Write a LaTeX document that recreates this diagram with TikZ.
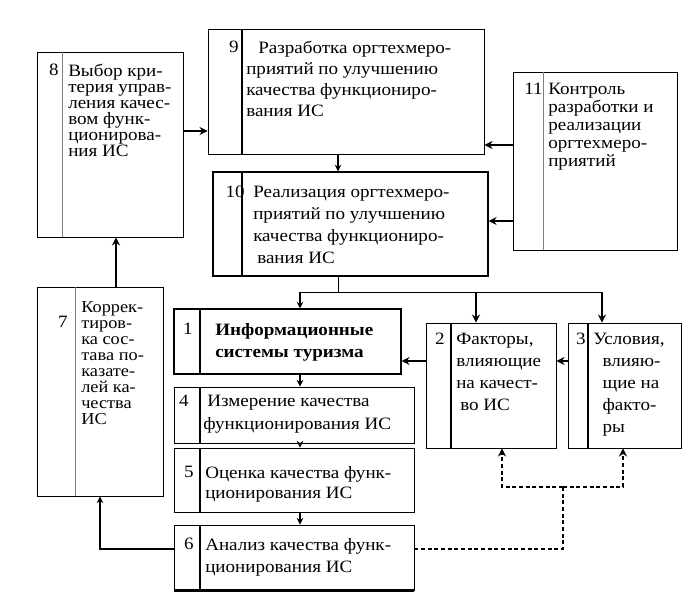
\documentclass[tikz,border=0pt]{standalone}
\usepackage{fontspec}
\setmainfont[FakeStretch=1.1]{Liberation Serif}
\usetikzlibrary{arrows.meta,fit,calc}
\tikzset{
  blk/.style={draw,line width=.7pt,inner sep=0pt},
  txt/.style={anchor=north west,align=left,inner sep=0pt},
  num/.style={anchor=north east,inner sep=0pt,font=\fontsize{13}{15}\selectfont},
  arr/.style={line width=1.5pt,-{Stealth[length=6pt,width=6pt]}},
  thinarr/.style={line width=.8pt,-{Stealth[length=5pt,width=5pt]}},
  dsh/.style={line width=1.2pt,dash pattern=on 3pt off 2pt,-{Stealth[length=6pt,width=6pt]}}
}
\newcommand{\fs}[1]{\fontsize{13}{#1}\selectfont}
\begin{document}
\begin{tikzpicture}[x=.75pt,y=-.75pt]
      \useasboundingbox(0,0)rectangle(700,602);
      % blocks
      \node[blk,fit={(37,52)(183,237)}](b8){};
      \node[blk,fit={(208,29)(484,154)}](b9){};
      \node[blk,line width=.85pt,fit={(213,172)(488,276)}](b10){};
      \node[blk,fit={(513,72)(677,250)}](b11){};
      \node[blk,fit={(37,287)(163,496)}](b7){};
      \node[blk,line width=.85pt,fit={(174,309)(401,374)}](b1){};
      \node[blk,fit={(174,387)(414,443)}](b4){};
      \node[blk,fit={(174,448)(414,512)}](b5){};
      \node[blk,fit={(174,525)(414,590)}](b6){};
      \node[blk,fit={(426,323)(556,448)}](b2){};
      \node[blk,fit={(568,323)(681,448)}](b3){};
      \draw[line width=1.6pt](b6.south west)--(b6.south east);
      % number columns
      \draw[line width=.5pt,gray](62,52)--(62,237) (75,287)--(75,496) (543,72)--(543,250);
      \draw[line width=.8pt](242,29)--(242,154) (242,172)--(242,276)
        (200,309)--(200,374) (200,387)--(200,443) (200,448)--(200,512) (200,525)--(200,590)
        (451,323)--(451,448) (588,323)--(588,448);
      % numbers
      \node[num](n8)at(59,64){8};
      \node[num](n9)at(239,41){9};
      \node[num](n10)at(245,186){10};
      \node[num](n11)at(543,83){11};
      \node[num](n7)at(68,316){7};
      \node[num](n1)at(193,323){1};
      \node[num](n4)at(189,395){4};
      \node[num](n5)at(194,466){5};
      \node[num](n6)at(194,538){6};
      \node[num](n2)at(445,333){2};
      \node[num](n3)at(586,333){3};
      % texts
      \node[txt,font=\fs{12}](t8)at(68,64){Выбор кри-\\терия управ-\\ления качес-\\вом функ-\\ционирова-\\ния ИС};
      \node[txt,font=\fs{15.75}](t9)at(246,41){\hspace*{9pt}Разработка оргтехмеро-\\приятий по улучшению\\качества функциониро-\\вания ИС};
      \node[txt,font=\fs{16.5}](t10)at(253,186){Реализация оргтехмеро-\\приятий по улучшению\\качества функциониро-\\\hspace*{3pt}вания ИС};
      \node[txt,font=\fs{13.5}](t11)at(548,83){Контроль\\разработки и\\реализации\\оргтехмеро-\\приятий};
      \node[txt,font=\fontsize{12.5}{12}\selectfont](t7)at(81,301){Коррек-\\тиров-\\ка сос-\\тава по-\\казате-\\лей ка-\\чества\\ИС};
      \node[txt,font=\fs{16.5}\bfseries](t1)at(215,323){Информационные\\системы туризма};
      \node[txt,font=\fs{17.25}](t4)at(203,395){\hspace*{3pt}Измерение качества\\функционирования ИС};
      \node[txt,font=\fs{15}](t5)at(205,466){Оценка качества функ-\\ционирования ИС};
      \node[txt,font=\fs{16.5}](t6)at(205,538){Анализ качества функ-\\ционирования ИС};
      \node[txt,font=\fs{16.5}](t2)at(456,333){Факторы,\\влияющие\\на качест-\\\hspace*{3pt}во ИС};
      \node[txt,font=\fs{16.5}](t3)at(593,333){Условия,\\\hspace*{7pt}влияю-\\\hspace*{7pt}щие на\\\hspace*{7pt}факто-\\\hspace*{7pt}ры};
      % helper levels
      \coordinate(ya)at(0,131);
      \coordinate(yb)at(0,145);
      \coordinate(yc)at(0,221);
      \coordinate(yd)at(0,361);
      \coordinate(ye)at(0,549);
      \coordinate(xa)at(338,0);
      \coordinate(xb)at(300,0);
      \coordinate(xc)at(476,0);
      \coordinate(xd)at(602,0);
      \coordinate(xe)at(116,0);
      \coordinate(xf)at(100,0);
      \coordinate(xg)at(502,0);
      \coordinate(xh)at(623,0);
      \coordinate(bus)at(338,292);
      \coordinate(dj)at(563,487);
      % connectors
      \draw[arr](b8.east|-ya)--(b9.west|-ya);
      \draw[thinarr](b9.south-|xa)--(b10.north-|xa);
      \draw[arr](b11.west|-yb)--(b9.east|-yb);
      \draw[arr](b11.west|-yc)--(b10.east|-yc);
      \draw[arr](b7.north-|xe)--(b8.south-|xe);
      \draw[line width=.5pt](b10.south-|xa)--(bus) (bus-|xb)--(bus-|xd);
      \draw[thinarr](bus-|xb)--(b1.north-|xb);
      \draw[arr](bus-|xc)--(b2.north-|xc);
      \draw[arr](bus-|xd)--(b3.north-|xd);
      \draw[thinarr](b1.south-|xb)--(b4.north-|xb);
      \draw[thinarr](b4.south-|xb)--(b5.north-|xb);
      \draw[thinarr](b5.south-|xb)--(b6.north-|xb);
      \draw[arr](b2.west|-yd)--(b1.east|-yd);
      \draw[arr](b3.west|-yd)--(b2.east|-yd);
      \draw[thinarr](b6.west|-ye)-|(b7.south-|xf);
      \draw[dsh,-](b6.east|-ye)-|(dj);
      \draw[dsh](dj)-|(b2.south-|xg);
      \draw[dsh](dj)-|(b3.south-|xh);
\end{tikzpicture}
\end{document}
